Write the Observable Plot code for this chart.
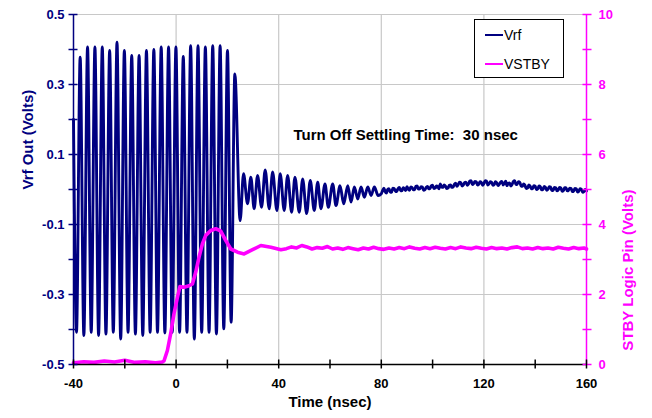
<!DOCTYPE html>
<html>
<head>
<meta charset="utf-8">
<script src="https://cdn.jsdelivr.net/npm/d3@7"></script>
<script src="https://cdn.jsdelivr.net/npm/@observablehq/plot@0.6"></script>
<style>
  body { margin: 0; background: #fff; }
  #wrap { position: relative; width: 652px; height: 418px; font-family: "Liberation Sans", Arial, sans-serif; }
  #legend { position: absolute; left: 474px; top: 19px; width: 90px; height: 59px; box-sizing: border-box;
            border: 1px solid #000; background: #fff; font-size: 14px; color: #000; }
  .row { position: absolute; left: 10px; height: 16px; line-height: 16px; white-space: nowrap; }
  .sw { display: inline-block; width: 18px; height: 0; border-top: 2.5px solid; vertical-align: middle; margin-right: 1px; position: relative; top: -1px; }
</style>
</head>
<body>
<div id="wrap"></div>
<script>
// ---------- data ----------
const xDomain = [-40, 160];
const yDomain = [-0.5, 0.5];
const stbyMax = 10;

const xTickLabels = [-40, 0, 40, 80, 120, 160];
const xTickMarks = [-40, -20, 0, 20, 40, 60, 80, 100, 120, 140, 160];
const xGrid = [0, 40, 80, 120];
const yTickLabels = [-0.5, -0.3, -0.1, 0.1, 0.3, 0.5];
const yTickMarks = [-0.5, -0.4, -0.3, -0.2, -0.1, 0, 0.1, 0.2, 0.3, 0.4, 0.5];
const yGrid = [-0.3, -0.1, 0.1, 0.3, 0.5];

// Vrf burst: start point then alternating trough / peak extrema (ns, V)
const vrfBurstTime = [-40, -38.83, -37.40, -35.96, -34.52, -33.09, -31.65, -30.22, -28.78, -27.35, -25.91,
  -24.48, -23.04, -21.60, -20.17, -18.73, -17.30, -15.86, -14.43, -12.99, -11.56, -10.12, -8.68, -7.25,
  -5.81, -4.38, -2.94, -1.51, -0.07, 1.36, 2.80, 4.24, 5.67, 7.11, 8.54, 9.98, 11.41, 12.85, 14.28, 15.72,
  17.16, 18.59, 20.03, 21.46, 22.90];
const vrfBurstVolts = [0.20, -0.408, 0.378, -0.417, 0.407, -0.408, 0.407, -0.417, 0.407, -0.413, 0.397,
  -0.408, 0.421, -0.427, 0.397, -0.408, 0.383, -0.413, 0.383, -0.417, 0.397, -0.408, 0.400, -0.408,
  0.407, -0.410, 0.407, -0.408, 0.407, -0.408, 0.380, -0.408, 0.411, -0.427, 0.411, -0.408, 0.407,
  -0.408, 0.411, -0.413, 0.411, -0.398, 0.397, -0.379, 0.330];

// Vrf ring-down after turn off
const vrfDecayTime = [24.96, 26.29, 27.85, 29.14, 30.43, 31.76, 33.32, 34.73, 36.29, 37.62, 39.30, 40.59,
  42.15, 43.48, 45.04, 46.33, 48.01, 49.34, 50.90, 52.30, 53.87, 55.20, 56.48, 58.05, 59.34, 61.05, 62.34,
  63.91, 65.35, 66.91, 68.20, 69.49, 70.82, 72.11, 73.40, 74.73, 76.02, 77.30, 78.75];
const vrfDecayVolts = [-0.089, 0.045, -0.041, 0.035, -0.055, 0.040, -0.051, 0.056, -0.055, 0.050, -0.060,
  0.045, -0.060, 0.040, -0.065, 0.035, -0.065, 0.030, -0.069, 0.026, -0.060, 0.021, -0.055, 0.016, -0.051,
  0.016, -0.046, 0.011, -0.041, 0.011, -0.036, 0.007, -0.027, 0.007, -0.022, 0.007, -0.017, 0.007, -0.017];

// Vrf settled, noisy (every 0.5 ns)
const vrfTailTime = [80, 80.5, 81, 81.5, 82, 82.5, 83, 83.5, 84, 84.5, 85, 85.5, 86, 86.5, 87, 87.5, 88, 88.5, 89, 89.5,
  90, 90.5, 91, 91.5, 92, 92.5, 93, 93.5, 94, 94.5, 95, 95.5, 96, 96.5, 97, 97.5, 98, 98.5, 99, 99.5,
  100, 100.5, 101, 101.5, 102, 102.5, 103, 103.5, 104, 104.5, 105, 105.5, 106, 106.5, 107, 107.5, 108, 108.5, 109, 109.5,
  110, 110.5, 111, 111.5, 112, 112.5, 113, 113.5, 114, 114.5, 115, 115.5, 116, 116.5, 117, 117.5, 118, 118.5, 119, 119.5,
  120, 120.5, 121, 121.5, 122, 122.5, 123, 123.5, 124, 124.5, 125, 125.5, 126, 126.5, 127, 127.5, 128, 128.5, 129, 129.5,
  130, 130.5, 131, 131.5, 132, 132.5, 133, 133.5, 134, 134.5, 135, 135.5, 136, 136.5, 137, 137.5, 138, 138.5, 139, 139.5,
  140, 140.5, 141, 141.5, 142, 142.5, 143, 143.5, 144, 144.5, 145, 145.5, 146, 146.5, 147, 147.5, 148, 148.5, 149, 149.5,
  150, 150.5, 151, 151.5, 152, 152.5, 153, 153.5, 154, 154.5, 155, 155.5, 156, 156.5, 157, 157.5, 158, 158.5, 159, 159.5, 160];
const vrfTailVolts = [
  -0.012, -0.003, 0.004, -0.006, -0.010, 0.001, 0.002, -0.007, -0.008, 0.004, 0.003, -0.004, -0.006, 0.002, 0.006, -0.002, -0.004, 0.005, 0.002, -0.003,
  0.008, 0.001, -0.002, 0.007, 0.006, -0.001, 0.000, 0.009, 0.010, 0.001, 0.002, 0.008, 0.007, -0.002, -0.001, 0.006, 0.009, 0.002, 0.003, 0.011,
  0.012, 0.003, 0.004, 0.010, 0.008, 0.002, 0.016, 0.007, 0.006, 0.013, 0.010, 0.003, 0.004, 0.012, 0.013, 0.006, 0.007, 0.015, 0.018, 0.009,
  0.014, 0.021, 0.019, 0.010, 0.013, 0.020, 0.021, 0.012, 0.016, 0.024, 0.025, 0.014, 0.017, 0.023, 0.022, 0.013, 0.015, 0.022, 0.020, 0.012,
  0.017, 0.025, 0.024, 0.013, 0.016, 0.022, 0.021, 0.012, 0.014, 0.022, 0.019, 0.011, 0.015, 0.021, 0.023, 0.013, 0.017, 0.024, 0.011, 0.018,
  0.019, 0.010, 0.015, 0.023, 0.025, 0.014, 0.016, 0.022, 0.020, 0.010, 0.009, 0.016, 0.012, 0.003, 0.004, 0.013, 0.010, 0.002, 0.003, 0.011,
  0.009, 0.000, 0.002, 0.010, 0.008, -0.001, 0.000, 0.009, 0.006, -0.002, 0.001, 0.008, 0.007, -0.003, -0.002, 0.006, 0.005, -0.004, -0.001, 0.006,
  0.004, -0.005, -0.003, 0.005, 0.005, -0.004, -0.002, 0.004, 0.003, -0.006, -0.004, 0.003, 0.002, -0.007, -0.005, 0.002, 0.001, -0.008, -0.006, 0.000, -0.004];

// VSTBY logic pin (ns, V on right axis)
const stbyTime = [-40, -36, -32, -28, -24, -20, -16, -12, -8, -5.5, -4.73, -3.4, -2.11, -0.82, 0.51, 1.52,
  3.09, 5.04, 6.37, 7.66, 8.95, 10.27, 11.56, 13.52, 15.47, 17.42, 19.38, 21.33, 23.95, 26.52, 29.8, 33.05,
  36.95, 40.86, 43, 45, 47, 49, 51, 53, 55, 57, 59, 61, 63, 65, 67, 69, 71, 73, 75, 77, 79, 81, 83, 85, 87,
  89, 91, 93, 95, 97, 99, 101, 103, 105, 107, 109, 111, 113, 115, 117, 119, 121, 123, 125, 127, 129, 131,
  133, 135, 137, 139, 141, 143, 145, 147, 149, 151, 153, 155, 157, 159, 160];
const stbyVolts = [0.05, 0.08, 0.06, 0.10, 0.07, 0.12, 0.06, 0.08, 0.05, 0.07, 0.10, 0.40, 0.88, 1.45, 1.92,
  2.23, 2.21, 2.25, 2.30, 2.64, 3.07, 3.45, 3.69, 3.83, 3.88, 3.81, 3.54, 3.30, 3.21, 3.16, 3.28, 3.40,
  3.35, 3.28, 3.31, 3.36, 3.33, 3.40, 3.36, 3.30, 3.34, 3.32, 3.37, 3.30, 3.33, 3.29, 3.34, 3.31, 3.28,
  3.33, 3.30, 3.35, 3.31, 3.29, 3.33, 3.30, 3.34, 3.31, 3.36, 3.32, 3.30, 3.34, 3.31, 3.35, 3.32, 3.30,
  3.34, 3.31, 3.36, 3.33, 3.31, 3.35, 3.32, 3.30, 3.34, 3.31, 3.33, 3.30, 3.34, 3.36, 3.31, 3.33, 3.30,
  3.34, 3.31, 3.33, 3.30, 3.35, 3.32, 3.30, 3.34, 3.31, 3.33, 3.30];

const annotation = [{t: 89.5, v: 0.155, text: "Turn Off Settling Time:\u00a0 30 nsec"}];
const seriesNames = ["Vrf", "VSTBY"];

// ---------- build ----------
const NAVY = "#000080", MAG = "#FF00FF";
const vrf = [
  ...vrfBurstTime.map((t, i) => ({t, v: vrfBurstVolts[i]})),
  ...vrfDecayTime.map((t, i) => ({t, v: vrfDecayVolts[i]})),
  ...vrfTailTime.map((t, i) => ({t, v: vrfTailVolts[i]}))
];
const stby = stbyTime.map((t, i) => ({t, s: stbyVolts[i]}));
const toLeft = s => yDomain[0] + s / stbyMax * (yDomain[1] - yDomain[0]);
const toRightLabel = y => String(Math.round((y - yDomain[0]) / (yDomain[1] - yDomain[0]) * stbyMax));

const font = {fontWeight: "bold", fontSize: 13};

const chart = Plot.plot({
  width: 652, height: 418,
  marginLeft: 73, marginRight: 66, marginTop: 14, marginBottom: 54,
  x: {domain: xDomain},
  y: {domain: yDomain},
  style: {fontFamily: "'Liberation Sans', Arial, sans-serif", background: "white", overflow: "visible"},
  marks: [
    Plot.gridX(xGrid, {stroke: "#c8c8c8", strokeOpacity: 1, strokeWidth: 1.2}),
    Plot.gridY(yGrid, {stroke: "#c8c8c8", strokeOpacity: 1, strokeWidth: 1.2}),
    Plot.line(vrf, {x: "t", y: "v", stroke: NAVY, strokeWidth: 2.9, curve: "monotone-x"}),
    Plot.line(stby, {x: "t", y: d => toLeft(d.s), stroke: MAG, strokeWidth: 3.6}),
    Plot.ruleX([xDomain[0]], {stroke: NAVY, strokeWidth: 1.5}),
    Plot.ruleX([xDomain[1]], {stroke: MAG, strokeWidth: 1.5}),
    Plot.ruleY([yDomain[0]], {stroke: "black", strokeWidth: 1.5}),
    // crossing tick marks
    Plot.axisY(yTickMarks, {anchor: "left", tickSize: 9, dx: 4.5, tickFormat: () => "", stroke: NAVY, strokeWidth: 1.5, label: null}),
    Plot.axisY(yTickMarks, {anchor: "right", tickSize: 9, dx: -4.5, tickFormat: () => "", stroke: MAG, strokeWidth: 1.5, label: null}),
    Plot.axisX(xTickMarks, {anchor: "bottom", tickSize: 9, dy: -4.5, tickFormat: () => "", stroke: "black", strokeWidth: 1.5, label: null}),
    // tick labels
    Plot.axisY(yTickLabels, {anchor: "left", tickSize: 0, tickPadding: 9, tickFormat: d => d.toFixed(1), fill: NAVY, ...font, label: null}),
    Plot.axisY(yTickLabels, {anchor: "right", tickSize: 0, tickPadding: 12, tickFormat: toRightLabel, fill: MAG, ...font, label: null}),
    Plot.axisX(xTickLabels, {anchor: "bottom", tickSize: 0, tickPadding: 14, tickFormat: d => String(d), fill: "black", ...font, label: null}),
    // axis titles
    Plot.text(["Vrf Out (Volts)"], {frameAnchor: "left", dx: -45, rotate: -90, fill: NAVY, fontWeight: "bold", fontSize: 15}),
    Plot.text(["STBY Logic Pin (Volts)"], {frameAnchor: "right", dx: 42, rotate: -90, fill: MAG, fontWeight: "bold", fontSize: 15}),
    Plot.text(["Time (nsec)"], {frameAnchor: "bottom", dy: 42, fill: "black", fontWeight: "bold", fontSize: 15}),
    // annotation
    Plot.text(annotation, {x: "t", y: "v", text: "text", fill: "black", fontWeight: "bold", fontSize: 15})
  ]
});

const wrap = document.getElementById("wrap");
wrap.appendChild(chart);

const legend = document.createElement("div");
legend.id = "legend";
[[seriesNames[0], NAVY, 7], [seriesNames[1], MAG, 36]].forEach(([name, color, top]) => {
  const row = document.createElement("div");
  row.className = "row";
  row.style.top = top + "px";
  const sw = document.createElement("span");
  sw.className = "sw";
  sw.style.borderTopColor = color;
  row.appendChild(sw);
  row.appendChild(document.createTextNode(name));
  legend.appendChild(row);
});
wrap.appendChild(legend);
</script>
</body>
</html>
